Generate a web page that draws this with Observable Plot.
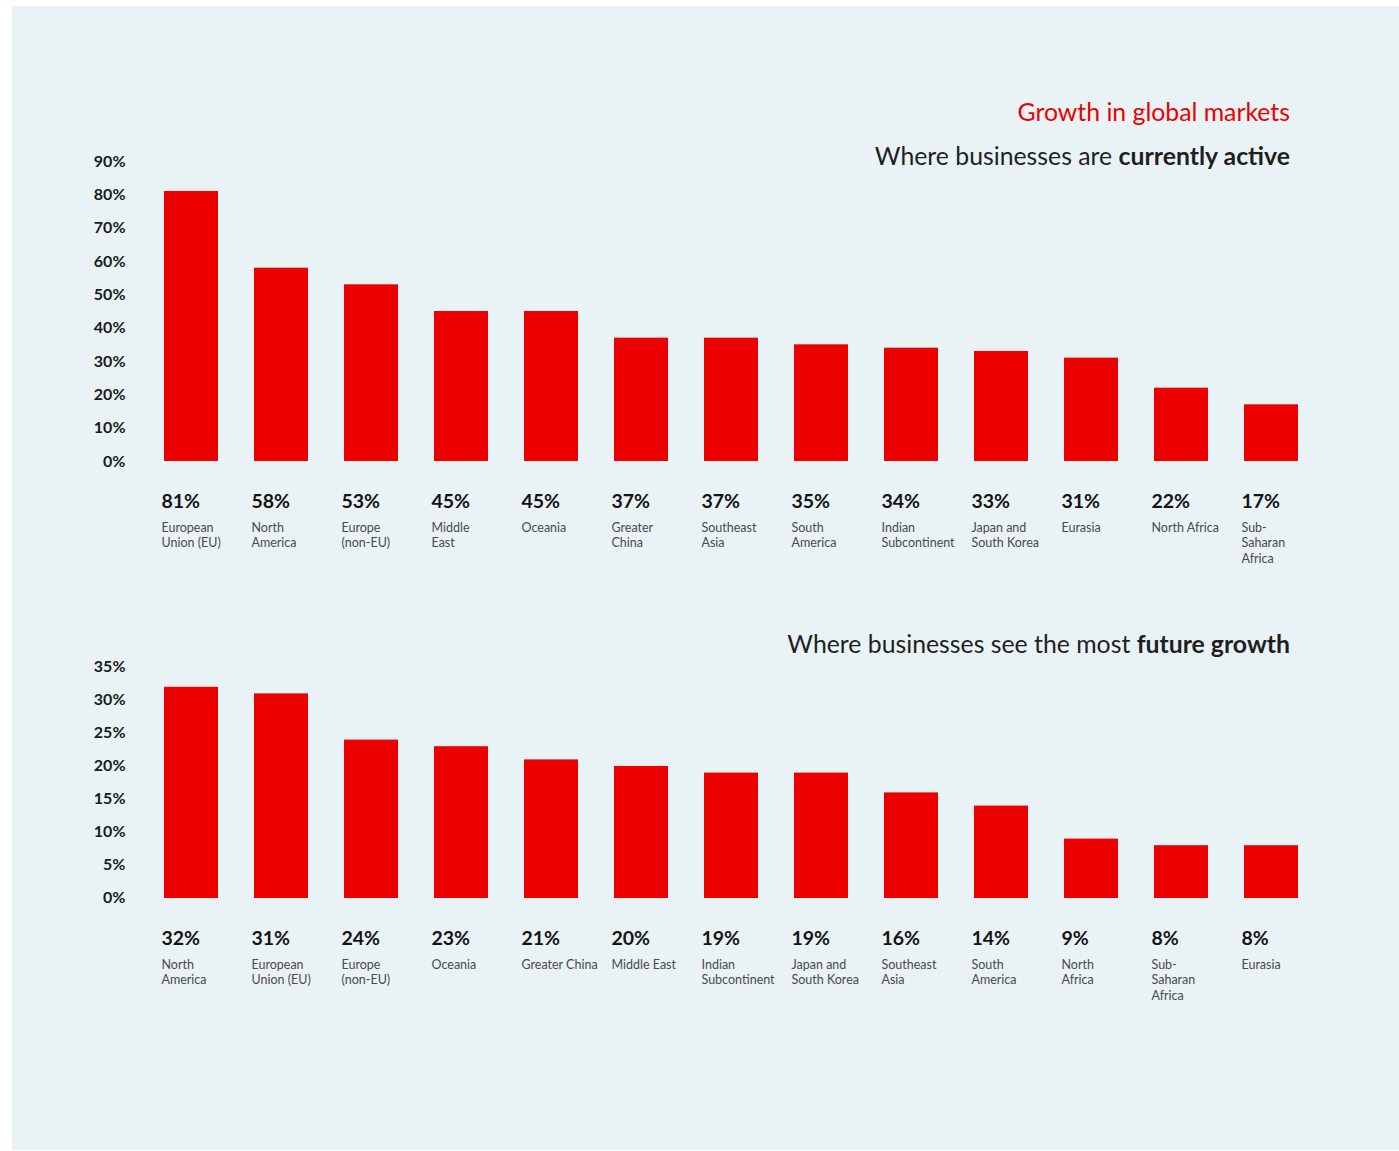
<!DOCTYPE html>
<html>
<head>
<meta charset="utf-8">
<script src="https://cdn.jsdelivr.net/npm/d3@7"></script>
<script src="https://cdn.jsdelivr.net/npm/@observablehq/plot@0.6"></script>
<style>
  html, body { margin: 0; padding: 0; background: #ffffff; }
  body { width: 1399px; height: 1151px; position: relative; overflow: hidden; font-family: Lato, "Open Sans", sans-serif; }
  #panel { position: absolute; left: 12px; top: 6px; width: 1387px; height: 1144px; background: #e9f3f6; }
  .ttl { position: absolute; right: 109px; white-space: nowrap; line-height: 30px; }
  #t1 { top: 97px; color: #ec0000; font-size: 24.8px; }
  #s1 { top: 141px; color: #1f1f1f; font-size: 24.8px; }
  #s2 { top: 629px; color: #1f1f1f; font-size: 24.8px; }
  .ttl b { font-weight: 700; }
  .chart { position: absolute; left: 0; }
  #c1 { top: 130px; }
  #c2 { top: 640px; }
</style>
</head>
<body>
<div id="panel"></div>
<div class="ttl" id="t1">Growth in global markets</div>
<div class="ttl" id="s1">Where businesses are <b>currently active</b></div>
<div class="ttl" id="s2">Where businesses see the most <b>future growth</b></div>
<div class="chart" id="c1"></div>
<div class="chart" id="c2"></div>
<script>
// ---- Data: where businesses are currently active ----
const activeCategories = ["European Union (EU)", "North America", "Europe (non-EU)", "Middle East", "Oceania", "Greater China", "Southeast Asia", "South America", "Indian Subcontinent", "Japan and South Korea", "Eurasia", "North Africa", "Sub-Saharan Africa"];
const activeValues = [81, 58, 53, 45, 45, 37, 37, 35, 34, 33, 31, 22, 17];
const activeLabels = ["European\nUnion (EU)", "North\nAmerica", "Europe\n(non-EU)", "Middle\nEast", "Oceania", "Greater\nChina", "Southeast\nAsia", "South\nAmerica", "Indian\nSubcontinent", "Japan and\nSouth Korea", "Eurasia", "North Africa", "Sub-\nSaharan\nAfrica"];
const activeTicks = [0, 10, 20, 30, 40, 50, 60, 70, 80, 90];

// ---- Data: where businesses see the most future growth ----
const growthCategories = ["North America", "European Union (EU)", "Europe (non-EU)", "Oceania", "Greater China", "Middle East", "Indian Subcontinent", "Japan and South Korea", "Southeast Asia", "South America", "North Africa", "Sub-Saharan Africa", "Eurasia"];
const growthValues = [32, 31, 24, 23, 21, 20, 19, 19, 16, 14, 9, 8, 8];
const growthLabels = ["North\nAmerica", "European\nUnion (EU)", "Europe\n(non-EU)", "Oceania", "Greater China", "Middle East", "Indian\nSubcontinent", "Japan and\nSouth Korea", "Southeast\nAsia", "South\nAmerica", "North\nAfrica", "Sub-\nSaharan\nAfrica", "Eurasia"];
const growthTicks = [0, 5, 10, 15, 20, 25, 30, 35];

const RED = "#ec0000";
const FONT = "Lato, 'Open Sans', sans-serif";

function makeChart(cats, vals, labels, ticks, marginTop, innerH, tickDy) {
  const data = cats.map((c, i) => ({cat: c, val: vals[i], label: labels[i]}));
  const marginBottom = 125;
  return Plot.plot({
    width: 1399,
    height: marginTop + innerH + marginBottom,
    marginLeft: 146,
    marginRight: 83,
    marginTop,
    marginBottom,
    style: {background: "transparent", fontFamily: FONT, overflow: "visible"},
    x: {domain: cats, paddingInner: 0.4, paddingOuter: 0.2, axis: null},
    y: {domain: [0, d3.max(ticks)], label: null},
    marks: [
      Plot.barY(data, {x: "cat", y: "val", fill: RED}),
      Plot.axisY({ticks, tickFormat: d => d + "%", tickSize: 0, tickPadding: 21, label: null,
                  fontSize: 16, fontWeight: 700, fill: "#1a1a1a", dy: tickDy}),
      Plot.text(data, {x: "cat", frameAnchor: "bottom", text: d => d.val + "%", textAnchor: "start",
                       dx: -30, dy: 46, fontSize: 19.5, fontWeight: 700, fill: "#141414"}),
      Plot.text(data, {x: "cat", frameAnchor: "bottom", text: "label", textAnchor: "start", lineAnchor: "top",
                       dx: -30, dy: 59, fontSize: 12.5, lineHeight: 1.24, fill: "#4a4a4a"})
    ]
  });
}

document.getElementById("c1").appendChild(makeChart(activeCategories, activeValues, activeLabels, activeTicks, 31, 300, 0));
document.getElementById("c2").appendChild(makeChart(growthCategories, growthValues, growthLabels, growthTicks, 27, 231, -1));
</script>
</body>
</html>
